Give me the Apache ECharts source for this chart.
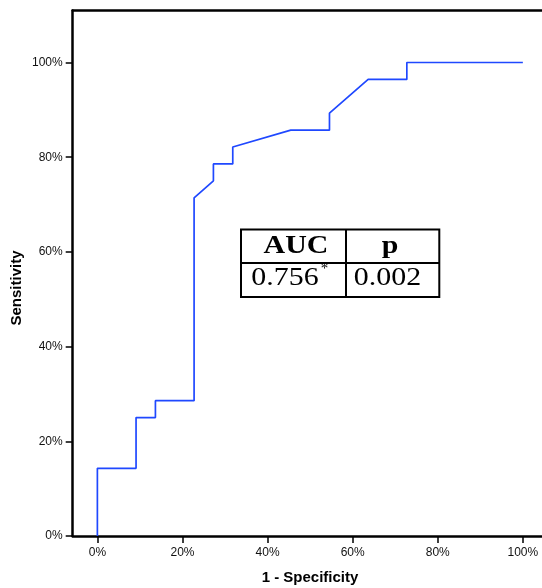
<!DOCTYPE html>
<html>
<head>
<meta charset="utf-8">
<script src="https://cdn.jsdelivr.net/npm/echarts@6/dist/echarts.min.js"></script>
<style>html,body{margin:0;padding:0;background:#fff}#c{width:542px;height:588px}</style>
</head>
<body>
<div id="c"></div>
<script>
// ROC curve points: [1 - specificity, sensitivity]
const rocFpr  = [0, 0, 0.0909, 0.0909, 0.1364, 0.1364, 0.2273, 0.2273, 0.2727, 0.2727, 0.3182, 0.3182, 0.4545, 0.5455, 0.5455, 0.6364, 0.7273, 0.7273, 1.0];
const rocSens = [0, 0.1429, 0.1429, 0.25, 0.25, 0.2857, 0.2857, 0.7143, 0.75, 0.7857, 0.7857, 0.8214, 0.8571, 0.8571, 0.8929, 0.9643, 0.9643, 1.0, 1.0];
const xTicks = [0, 0.2, 0.4, 0.6, 0.8, 1.0];
const yTicks = [0, 0.2, 0.4, 0.6, 0.8, 1.0];
const tableHeader = ['AUC', 'p'];
const tableValues = ['0.756', '0.002'];
const aucMark = '*';
const xTitle = '1 - Specificity';
const yTitle = 'Sensitivity';

const pct = v => Math.round(v * 100) + '%';
const chart = echarts.init(document.getElementById('c'), null, {renderer: 'canvas'});
const serif = '"Liberation Serif", "Times New Roman", serif';
const sans = '"Liberation Sans", Arial, sans-serif';

chart.setOption({
  animation: false,
  grid: {left: 72.7, right: 0, top: 10.4, bottom: 52, containLabel: false},
  xAxis: [{
    type: 'value', min: -0.058, max: 1.045, position: 'bottom',
    splitLine: {show: false},
    axisLine: {show: true, onZero: false, lineStyle: {color: '#000', width: 2.5}},
    axisTick: {show: true, length: 7, customValues: xTicks, lineStyle: {color: '#000', width: 1.5}},
    axisLabel: {customValues: xTicks, formatter: pct, margin: 11, color: '#111', fontSize: 12, fontFamily: sans}
  }, {
    type: 'value', min: -0.058, max: 1.045, position: 'top',
    splitLine: {show: false},
    axisLine: {show: true, onZero: false, lineStyle: {color: '#000', width: 2.5}},
    axisTick: {show: false}, axisLabel: {show: false}
  }],
  yAxis: {
    type: 'value', min: 0, max: 1.11,
    splitLine: {show: false},
    axisLine: {show: true, onZero: false, lineStyle: {color: '#000', width: 2.5}},
    axisTick: {show: true, length: 7, customValues: yTicks, lineStyle: {color: '#000', width: 1.5}},
    axisLabel: {customValues: yTicks, formatter: pct, margin: 10, color: '#111', fontSize: 12, fontFamily: sans}
  },
  series: [{
    type: 'line',
    data: rocFpr.map((x, i) => [x, rocSens[i]]),
    showSymbol: false,
    lineStyle: {color: '#1f48ff', width: 1.7},
    z: 3
  }],
  graphic: [
    {type: 'text', x: 310, y: 578, style: {text: xTitle, font: 'bold 15px ' + sans, fill: '#000', align: 'center', verticalAlign: 'middle'}},
    {type: 'text', x: 16.5, y: 288, rotation: Math.PI / 2, style: {text: yTitle, font: 'bold 15px ' + sans, fill: '#000', align: 'center', verticalAlign: 'middle'}},
    {type: 'rect', shape: {x: 241, y: 229.5, width: 198.3, height: 67.5}, style: {fill: '#fff', stroke: '#000', lineWidth: 2}, z: 10},
    {type: 'line', shape: {x1: 346, y1: 229.5, x2: 346, y2: 297}, style: {stroke: '#000', lineWidth: 2}, z: 11},
    {type: 'line', shape: {x1: 241, y1: 263, x2: 439.3, y2: 263}, style: {stroke: '#000', lineWidth: 2}, z: 11},
    {type: 'text', x: 296, y: 246.5, scaleX: 1.15, style: {text: tableHeader[0], font: 'bold 26px ' + serif, fill: '#000', align: 'center', verticalAlign: 'middle'}, z: 12},
    {type: 'text', x: 390, y: 246.5, scaleX: 1.15, style: {text: tableHeader[1], font: 'bold 26px ' + serif, fill: '#000', align: 'center', verticalAlign: 'middle'}, z: 12},
    {type: 'text', x: 285, y: 278, scaleX: 1.15, style: {text: tableValues[0], font: '26px ' + serif, fill: '#000', align: 'center', verticalAlign: 'middle'}, z: 12},
    {type: 'text', x: 324.5, y: 269.5, style: {text: aucMark, font: '15px ' + serif, fill: '#000', align: 'center', verticalAlign: 'middle'}, z: 12},
    {type: 'text', x: 387.5, y: 278, scaleX: 1.15, style: {text: tableValues[1], font: '26px ' + serif, fill: '#000', align: 'center', verticalAlign: 'middle'}, z: 12}
  ]
});
</script>
</body>
</html>
